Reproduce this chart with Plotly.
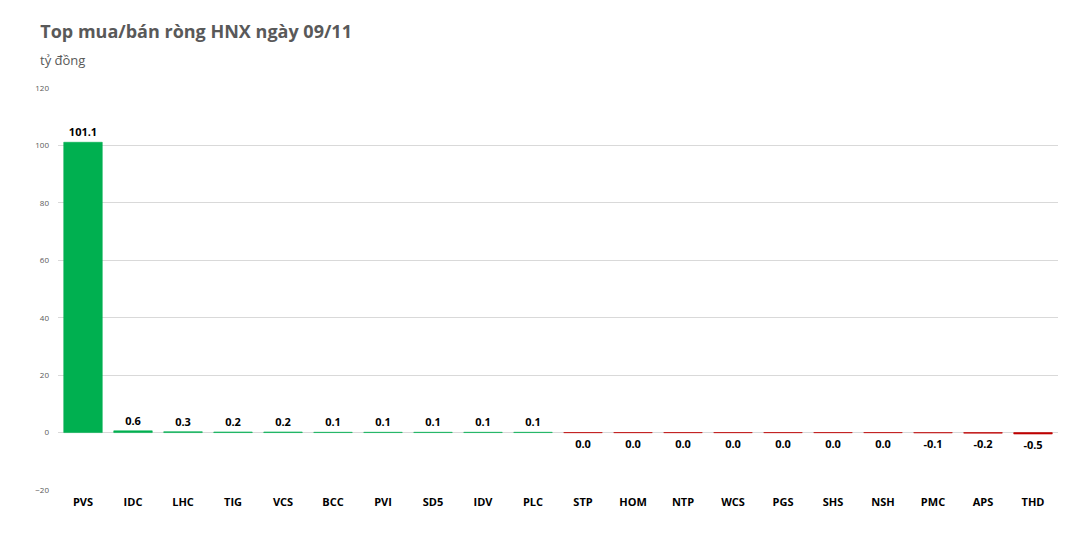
import plotly.graph_objects as go

tickers = ["PVS", "IDC", "LHC", "TIG", "VCS", "BCC", "PVI", "SD5", "IDV", "PLC",
           "STP", "HOM", "NTP", "WCS", "PGS", "SHS", "NSH", "PMC", "APS", "THD"]
net_values = [101.1, 0.6, 0.3, 0.2, 0.2, 0.1, 0.1, 0.1, 0.1, 0.1,
              -0.03, -0.03, -0.03, -0.03, -0.03, -0.03, -0.03, -0.1, -0.2, -0.5]

bar_colors = ["#00B050" if v > 0 else "#C00000" for v in net_values]
labels = ["<b>%.1f</b>" % (round(v, 1) + 0.0) for v in net_values]

fig = go.Figure()
fig.add_trace(go.Bar(
    x=tickers, y=net_values,
    marker=dict(color=bar_colors, line=dict(width=0.6, color=bar_colors)),
    text=labels, textposition="outside", cliponaxis=False,
    textfont=dict(size=11, color="#000000", family="Open Sans"),
    hoverinfo="x+y",
))

fig.update_layout(
    width=1075, height=537,
    plot_bgcolor="white", paper_bgcolor="white",
    margin=dict(l=50, r=25, t=80, b=55),
    bargap=0.23,
    showlegend=False,
    font=dict(family="Open Sans", color="#595959"),
    title=dict(text="<b>Top mua/bán ròng HNX ngày 09/11</b>", x=0.03, xanchor="left",
               y=0.955, yanchor="middle", font=dict(size=18, color="#595959")),
    annotations=[dict(text="tỷ đồng", xref="paper", yref="paper", x=-0.02, y=1.07,
                      xanchor="left", yanchor="middle", showarrow=False,
                      font=dict(size=13, color="#595959"))],
)
fig.update_yaxes(range=[-20, 120], dtick=20, showgrid=True, gridcolor="#D9D9D9",
                 zeroline=False, tickfont=dict(size=8, color="#595959"), ticks="",
                 ticklabelstandoff=8)
fig.update_xaxes(showline=False, tickfont=dict(size=11, color="#000000"),
                 tickprefix="<b>", ticksuffix="</b>", ticklabelstandoff=4)

fig.write_html("out.html")
